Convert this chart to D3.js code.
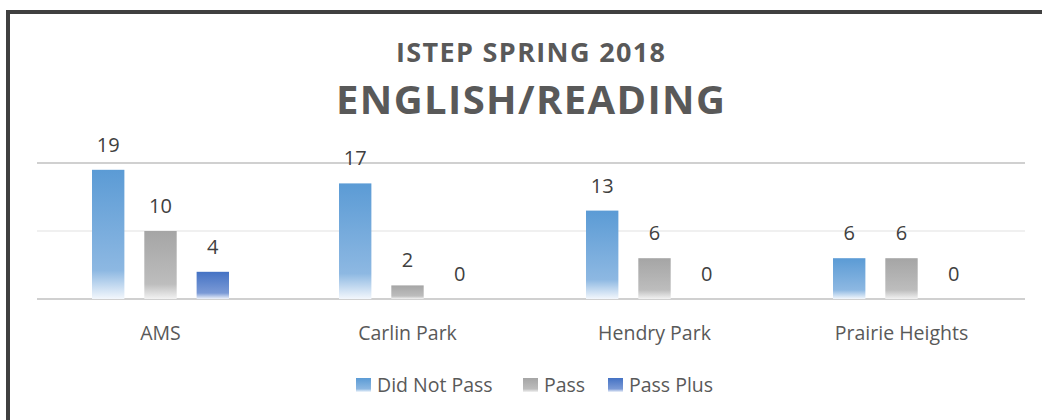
<!DOCTYPE html>
<html><head><meta charset="utf-8">
<script src="https://cdn.jsdelivr.net/npm/d3@7/dist/d3.min.js"></script>
<style>body{margin:0;background:#fff;} svg{display:block;}</style>
</head><body>
<svg id="chart" width="1042" height="420"></svg>
<script>
const categories = ["AMS", "Carlin Park", "Hendry Park", "Prairie Heights"];
const seriesNames = ["Did Not Pass", "Pass", "Pass Plus"];
const didNotPass = [19, 17, 13, 6];
const pass = [10, 2, 6, 6];
const passPlus = [4, 0, 0, 0];
const yTicks = [0, 10, 20];
const colors = [
  ["#5B9BD5", "#8DB8E2", "#f3f7fc"],
  ["#A5A5A5", "#BDBDBD", "#f2f2f2"],
  ["#4472C4", "#7b9ad6", "#eef2fa"]
];
const series = [didNotPass, pass, passPlus];

const svg = d3.select("#chart");
const defs = svg.append("defs");
colors.forEach((c, i) => {
  const g = defs.append("linearGradient").attr("id", "g" + i)
    .attr("x1", 0).attr("y1", 0).attr("x2", 0).attr("y2", 1);
  g.append("stop").attr("offset", "0").attr("stop-color", c[0]);
  g.append("stop").attr("offset", "0.78").attr("stop-color", c[1]);
  g.append("stop").attr("offset", "1").attr("stop-color", c[2]);
});

// frame
svg.append("rect").attr("x", 8).attr("y", 12).attr("width", 1060).attr("height", 440)
  .attr("fill", "none").attr("stroke", "#404040").attr("stroke-width", 4);

const x0 = d3.scaleBand().domain(categories).range([37, 1025]);
const x1 = d3.scaleBand().domain(seriesNames).range([-68.5, 68.5]).paddingInner(20/52.5);
const y = d3.scaleLinear().domain([0, 20]).range([299, 163]);

// gridlines
svg.append("g").selectAll("line").data(yTicks).join("line")
  .attr("x1", 37).attr("x2", 1025)
  .attr("y1", d => y(d)).attr("y2", d => y(d))
  .attr("stroke", d => d === 10 ? "#ebebeb" : "#d0d0d0")
  .attr("stroke-width", d => d === 10 ? 1.5 : 2);

// bars
const groups = svg.append("g").selectAll("g").data(categories).join("g")
  .attr("transform", d => `translate(${x0(d) + x0.bandwidth() / 2},0)`);
groups.each(function(cat, ci) {
  const g = d3.select(this);
  seriesNames.forEach((s, si) => {
    const v = series[si][ci];
    if (v > 0) {
      g.append("rect").attr("x", x1(s)).attr("width", x1.bandwidth())
        .attr("y", y(v)).attr("height", y(0) - y(v))
        .attr("fill", `url(#g${si})`);
    }
    g.append("text").attr("x", x1(s) + x1.bandwidth() / 2).attr("y", y(v) - 18)
      .attr("text-anchor", "middle").attr("font-family", "Open Sans, sans-serif")
      .attr("font-size", 20).attr("fill", "#404040").text(v);
  });
});

// x axis labels
svg.append("g").selectAll("text").data(categories).join("text")
  .attr("x", d => x0(d) + x0.bandwidth() / 2).attr("y", 340)
  .attr("text-anchor", "middle").attr("font-family", "Open Sans, sans-serif")
  .attr("font-size", 19.5).attr("fill", "#595959").text(d => d);

// titles
svg.append("text").attr("x", 396).attr("y", 62)
  .attr("font-family", "Open Sans, sans-serif").attr("font-weight", "bold")
  .attr("font-size", 27).attr("fill", "#595959")
  .attr("textLength", 269).attr("lengthAdjust", "spacing").text("ISTEP SPRING 2018");
svg.append("text").attr("x", 336).attr("y", 114)
  .attr("font-family", "Open Sans, sans-serif").attr("font-weight", "bold")
  .attr("font-size", 40).attr("fill", "#595959")
  .attr("textLength", 389).attr("lengthAdjust", "spacing").text("ENGLISH/READING");

// legend
const legendX = [356, 523, 608];
const lg = svg.append("g").selectAll("g").data(seriesNames).join("g")
  .attr("transform", (d, i) => `translate(${legendX[i]},378)`);
lg.append("rect").attr("width", 15).attr("height", 14).attr("fill", (d, i) => `url(#g${i})`);
lg.append("text").attr("x", 21).attr("y", 14).attr("font-family", "Open Sans, sans-serif")
  .attr("font-size", 19.5).attr("fill", "#595959").text(d => d);
</script>
</body></html>
